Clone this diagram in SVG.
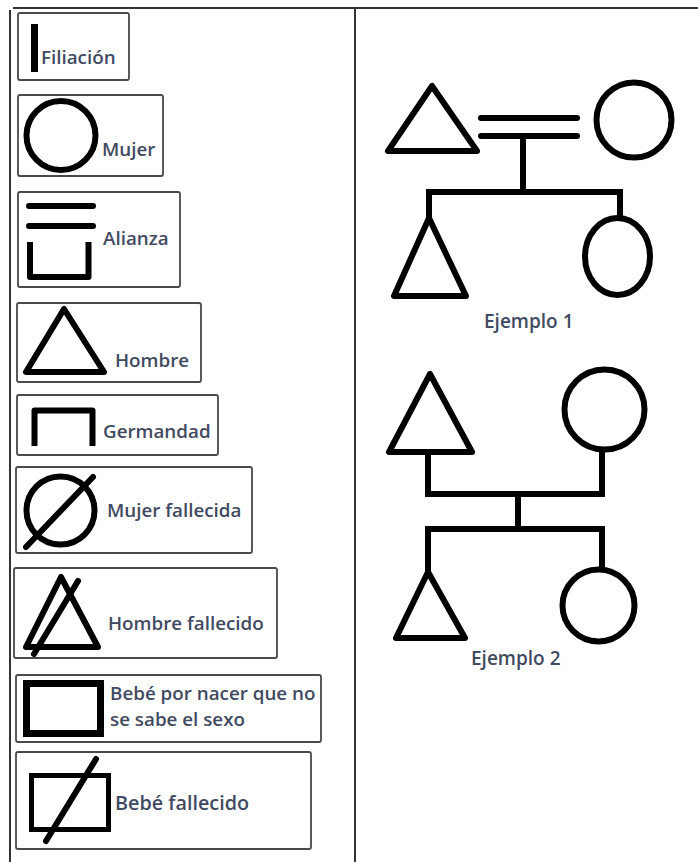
<svg xmlns="http://www.w3.org/2000/svg" width="698" height="862" viewBox="0 0 698 862">
<style>
.frame{stroke:#333;stroke-width:2;fill:none}
.box{fill:#fff;stroke:#4a4a4a;stroke-width:1.8}
.sym{fill:none;stroke:#000;stroke-width:6;stroke-linejoin:round}
.symc{fill:none;stroke:#000;stroke-width:6;stroke-linecap:round}
.lbl{font-family:"Open Sans","DejaVu Sans",sans-serif;font-size:18.8px;font-weight:600;fill:#424a62}
.ex{font-family:"Open Sans","DejaVu Sans",sans-serif;font-size:19px;font-weight:600;fill:#424a62}
.con{fill:none;stroke:#000;stroke-width:6;stroke-linejoin:miter}
</style>
<rect width="698" height="862" fill="#fff"/>
<g id="frame">
<line class="frame" x1="13" y1="8" x2="698" y2="8"/>
<line class="frame" x1="10" y1="10" x2="10" y2="862"/>
<line class="frame" x1="355" y1="8" x2="355" y2="862"/>
</g>
<g id="legend-filiacion">
<rect class="box" x="18" y="13" width="111" height="67" rx="2"/>
<line x1="34.5" y1="24" x2="34.5" y2="72" stroke="#000" stroke-width="7"/>
<text class="lbl" x="41" y="64">Filiación</text>
</g>
<g id="legend-mujer">
<rect class="box" x="18" y="95" width="145" height="81" rx="2"/>
<circle class="sym" cx="61" cy="135.5" r="34.5" stroke-width="5"/>
<text class="lbl" x="102" y="156">Mujer</text>
</g>
<g id="legend-alianza">
<rect class="box" x="18" y="192" width="162" height="95" rx="2"/>
<line class="symc" x1="29" y1="206" x2="93" y2="206"/>
<line class="symc" x1="29" y1="226" x2="93" y2="226"/>
<polyline class="sym" points="30,242 30,277 88.5,277 88.5,242" stroke-linejoin="miter"/>
<text class="lbl" x="103" y="245">Alianza</text>
</g>
<g id="legend-hombre">
<rect class="box" x="17" y="303" width="184" height="79" rx="2"/>
<polygon class="sym" points="64,309 26,372 104,372"/>
<text class="lbl" x="115" y="367">Hombre</text>
</g>
<g id="legend-germandad">
<rect class="box" x="17" y="395" width="201" height="60" rx="2"/>
<polyline class="sym" points="34.5,446 34.5,410.5 92.5,410.5 92.5,446" stroke-linejoin="miter" stroke-width="7"/>
<text class="lbl" x="103" y="438">Germandad</text>
</g>
<g id="legend-mujer-fallecida">
<rect class="box" x="16" y="467" width="236" height="86" rx="2"/>
<circle class="sym" cx="60.5" cy="510.5" r="34" stroke-width="5"/>
<line class="symc" x1="26" y1="547" x2="93" y2="477" stroke-width="5"/>
<text class="lbl" x="107" y="517">Mujer fallecida</text>
</g>
<g id="legend-hombre-fallecido">
<rect class="box" x="14" y="568" width="263" height="90" rx="2"/>
<polygon class="sym" points="61,577 26,647 98,647"/>
<line class="symc" x1="78" y1="581" x2="34" y2="654" stroke-width="5"/>
<text class="lbl" x="108" y="630">Hombre fallecido</text>
</g>
<g id="legend-bebe">
<rect class="box" x="16" y="675" width="305" height="67" rx="2"/>
<rect x="26.5" y="683.5" width="74" height="50" fill="none" stroke="#000" stroke-width="7"/>
<text class="lbl" x="110" y="700">Bebé por nacer que no</text>
<text class="lbl" x="110" y="726">se sabe el sexo</text>
</g>
<g id="legend-bebe-fallecido">
<rect class="box" x="16" y="752" width="295" height="97" rx="2"/>
<rect x="31.5" y="775.5" width="77" height="54" fill="none" stroke="#000" stroke-width="5"/>
<line class="symc" x1="46" y1="841" x2="96" y2="759" stroke-width="5"/>
<text class="lbl" x="115" y="810" style="font-size:19.8px">Bebé fallecido</text>
</g>
<g id="ex1-padre">
<polygon class="sym" points="432,86 388,151 477,151"/>
</g>
<g id="ex1-madre">
<circle class="sym" cx="634" cy="120" r="37.5"/>
</g>
<g id="ex1-hijo">
<polygon class="sym" points="429,218 394,296 466,296"/>
</g>
<g id="ex1-hija">
<ellipse class="sym" cx="617.5" cy="256.5" rx="32.5" ry="38.5"/>
</g>
<g id="ex2-padre">
<polygon class="sym" points="430,374 389,452 472,452"/>
</g>
<g id="ex2-madre">
<circle class="sym" cx="604.5" cy="409.5" r="40"/>
</g>
<g id="ex2-hijo">
<polygon class="sym" points="428,572 396,638 465,638"/>
</g>
<g id="ex2-hija">
<circle class="sym" cx="598.5" cy="605.5" r="36"/>
</g>
<g id="connectors">
<line class="symc" x1="481" y1="118" x2="577" y2="118"/>
<line class="symc" x1="481" y1="136" x2="577" y2="136"/>
<line class="con" x1="523" y1="136" x2="523" y2="192"/>
<polyline class="con" points="429,218 429,192 620,192 620,217"/>
<polyline class="con" points="428,453 428,494 602,494 602,449"/>
<line class="con" x1="518" y1="494" x2="518" y2="529"/>
<polyline class="con" points="428,572 428,529 602,529 602,569"/>
</g>
<text class="ex" x="484" y="328">Ejemplo 1</text>
<text class="ex" x="471" y="665">Ejemplo 2</text>
</svg>
